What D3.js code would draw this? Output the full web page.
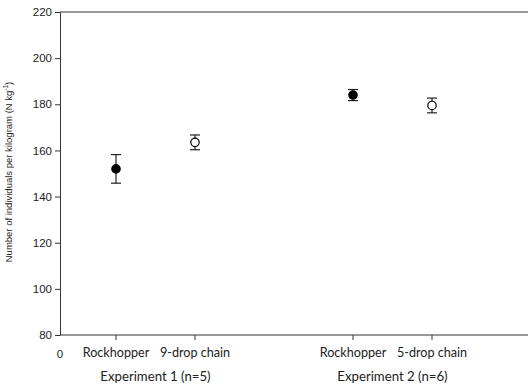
<!DOCTYPE html>
<html><head><meta charset="utf-8">
<script src="https://cdn.jsdelivr.net/npm/d3@7"></script>
<style>body{margin:0;background:#fff}svg{display:block}</style>
</head><body>
<svg id="c" width="528" height="386"></svg>
<script>
const categories = ["Rockhopper", "9-drop chain", "Rockhopper", "5-drop chain"];
const positions = [1, 2, 4, 5];
const means = [152, 163.5, 184, 179.5];
const errors = [6.2, 3.2, 2.4, 3.2];
const filled = [true, false, true, false];
const groups = ["Experiment 1 (n=5)", "Experiment 2 (n=6)"];
const groupCenters = [1.5, 4.5];
const yTicks = [80, 100, 120, 140, 160, 180, 200, 220];

const svg = d3.select("#c");
const x = d3.scaleLinear().domain([0, 1]).range([37, 116]);
const y = d3.scaleLinear().domain([80, 220]).range([335, 12]);
const x0 = 60, x1 = 528;
const axisColor = "#333";

// y axis
const yAxis = d3.axisLeft(y).tickValues(yTicks).tickSize(5).tickSizeOuter(0).tickPadding(3);
const gy = svg.append("g").attr("transform", `translate(${x0},0)`).call(yAxis);
gy.select(".domain").attr("stroke", axisColor);
gy.selectAll(".tick line").attr("stroke", axisColor);
gy.selectAll(".tick text").attr("font-family", "Liberation Sans, Arial, sans-serif").attr("font-size", 11.5).attr("fill", "#222");

// top line
svg.append("line").attr("x1", x0).attr("x2", x1).attr("y1", y(220)).attr("y2", y(220)).attr("stroke", axisColor);
// x axis
svg.append("line").attr("x1", x0).attr("x2", x1).attr("y1", y(80)).attr("y2", y(80)).attr("stroke", axisColor);
svg.selectAll("line.xt").data(positions).join("line").attr("class", "xt")
  .attr("x1", d => x(d)).attr("x2", d => x(d)).attr("y1", y(80)).attr("y2", y(80) + 5).attr("stroke", axisColor);

const lblFont = "Lato, 'Open Sans', sans-serif";
svg.append("text").attr("x", x0).attr("y", 358).attr("text-anchor", "middle")
  .attr("font-family", "Liberation Sans, Arial, sans-serif").attr("font-size", 11.5).attr("fill", "#222").text("0");
svg.selectAll("text.cat").data(categories).join("text").attr("class", "cat")
  .attr("x", (d, i) => x(positions[i])).attr("y", 357).attr("text-anchor", "middle")
  .attr("font-family", lblFont).attr("font-size", 12.6).attr("fill", "#222").text(d => d);
svg.selectAll("text.grp").data(groups).join("text").attr("class", "grp")
  .attr("x", (d, i) => x(groupCenters[i])).attr("y", 381).attr("text-anchor", "middle")
  .attr("font-family", lblFont).attr("font-size", 13.2).attr("fill", "#222").text(d => d);

// y title
const yt = svg.append("text").attr("transform", `translate(12,172) rotate(-90)`)
  .attr("text-anchor", "middle").attr("font-family", "Liberation Sans, Arial, sans-serif")
  .attr("font-size", 9.5).attr("fill", "#222");
yt.append("tspan").text("Number of individuals per kilogram (N kg");
yt.append("tspan").attr("dy", -4).attr("font-size", 6.5).text("-1");
yt.append("tspan").attr("dy", 4).text(")");

// error bars and points
const pts = positions.map((p, i) => ({p, m: means[i], e: errors[i], f: filled[i]}));
const g = svg.append("g");
g.selectAll("line.eb").data(pts).join("line").attr("class", "eb")
  .attr("x1", d => x(d.p)).attr("x2", d => x(d.p)).attr("y1", d => y(d.m + d.e)).attr("y2", d => y(d.m - d.e))
  .attr("stroke", "#222").attr("stroke-width", 1.2);
["+", "-"].forEach(s => {
  g.selectAll("line.cap" + (s === "+" ? "t" : "b")).data(pts).join("line").attr("class", "cap" + (s === "+" ? "t" : "b"))
    .attr("x1", d => x(d.p) - 5).attr("x2", d => x(d.p) + 5)
    .attr("y1", d => y(s === "+" ? d.m + d.e : d.m - d.e)).attr("y2", d => y(s === "+" ? d.m + d.e : d.m - d.e))
    .attr("stroke", "#222").attr("stroke-width", 1.2);
});
g.selectAll("circle").data(pts).join("circle")
  .attr("cx", d => x(d.p)).attr("cy", d => y(d.m)).attr("r", 4.2)
  .attr("fill", d => d.f ? "#000" : "#fff").attr("stroke", "#000").attr("stroke-width", 1.2);
</script>
</body></html>
